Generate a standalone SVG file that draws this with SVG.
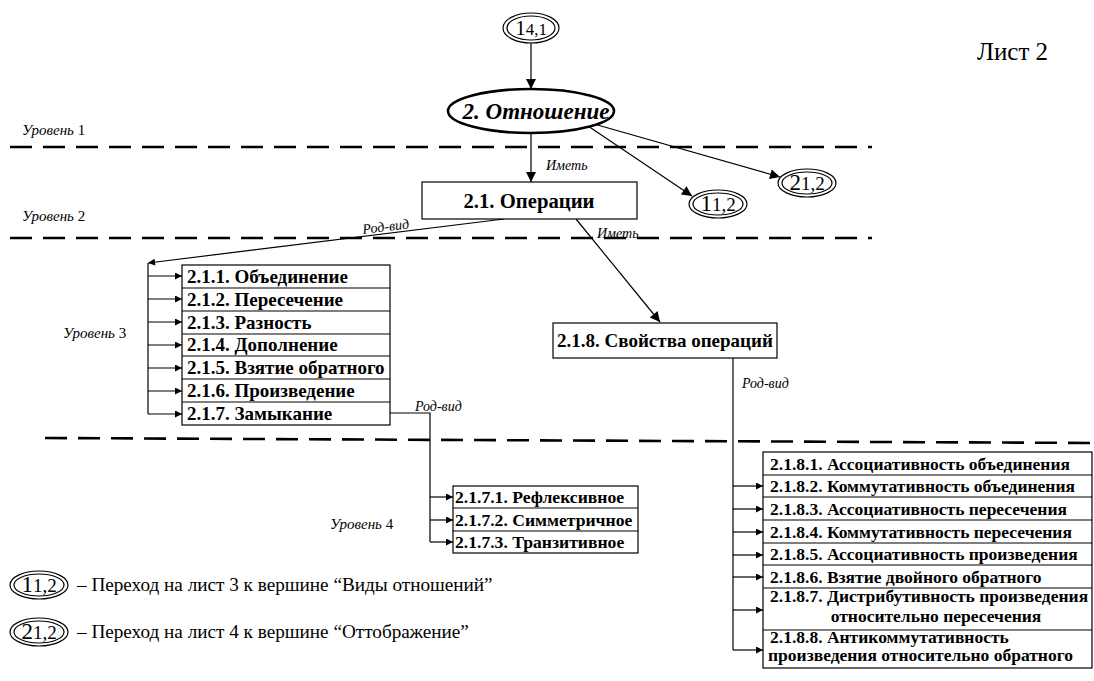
<svg xmlns="http://www.w3.org/2000/svg" width="1094" height="681" viewBox="0 0 1094 681">
<style>
text{font-family:"Liberation Serif","Times New Roman",serif;fill:#000}
.b{font-weight:bold}
.i{font-style:italic}
.lbl{font-size:14px;font-style:italic}
.lvl{font-size:15px}
.box{fill:#fff;stroke:#000;stroke-width:1.2}
.ln{fill:none;stroke:#000;stroke-width:1.2}
.dash{fill:none;stroke:#000;stroke-width:2.6;stroke-dasharray:22 11}
.rowL{font-size:19px;font-weight:bold}
.rowS{font-size:17.6px;font-weight:bold}
.rowR{font-size:17.5px;font-weight:bold}
.ell{fill:#fff;stroke:#000;stroke-width:1.2}
.leg{font-size:19.2px}
</style>
<defs>
<marker id="big" viewBox="0 0 10 10" refX="10" refY="5" markerWidth="14" markerHeight="10" markerUnits="userSpaceOnUse" orient="auto"><path d="M0,0 L10,5 L0,10 z" fill="#000"/></marker>
<marker id="sm" viewBox="0 0 10 10" refX="10" refY="5" markerWidth="9" markerHeight="7" markerUnits="userSpaceOnUse" orient="auto"><path d="M0,0 L10,5 L0,10 z" fill="#000"/></marker>
</defs>
<rect width="1094" height="681" fill="#fff"/>

<g id="levels">
<line class="dash" x1="10" y1="147" x2="872" y2="147"/>
<line class="dash" x1="10" y1="238" x2="872" y2="238"/>
<line class="dash" x1="45" y1="438" x2="1094" y2="443"/>
<text class="lvl" x="22" y="135"><tspan class="i">Уровень</tspan> 1</text>
<text class="lvl" x="22" y="221"><tspan class="i">Уровень</tspan> 2</text>
<text class="lvl" x="63" y="338"><tspan class="i">Уровень</tspan> 3</text>
<text class="lvl" x="330" y="529"><tspan class="i">Уровень</tspan> 4</text>
<text x="977" y="60" font-size="25">Лист 2</text>
</g>

<g id="connectors">
<line class="ln" x1="531" y1="43" x2="531" y2="89" marker-end="url(#big)"/>
<line class="ln" x1="531" y1="133" x2="531" y2="182" marker-end="url(#big)"/>
<text class="lbl" x="546" y="170">Иметь</text>
<line class="ln" x1="588" y1="126" x2="692" y2="196" marker-end="url(#big)"/>
<line class="ln" x1="594" y1="124" x2="780" y2="177" marker-end="url(#big)"/>
<line class="ln" x1="576" y1="219" x2="660" y2="322" marker-end="url(#big)"/>
<text class="lbl" x="597" y="238">Иметь</text>
<line class="ln" x1="504" y1="219" x2="148" y2="263" marker-end="url(#sm)"/>
<text class="lbl" x="363" y="234" transform="rotate(-7 363 234)">Род-вид</text>
<polyline class="ln" points="148,263 148,414"/>
<line class="ln" x1="148" y1="276" x2="182" y2="276" marker-end="url(#sm)"/>
<line class="ln" x1="148" y1="299" x2="182" y2="299" marker-end="url(#sm)"/>
<line class="ln" x1="148" y1="322" x2="182" y2="322" marker-end="url(#sm)"/>
<line class="ln" x1="148" y1="345" x2="182" y2="345" marker-end="url(#sm)"/>
<line class="ln" x1="148" y1="368" x2="182" y2="368" marker-end="url(#sm)"/>
<line class="ln" x1="148" y1="391" x2="182" y2="391" marker-end="url(#sm)"/>
<line class="ln" x1="148" y1="414" x2="182" y2="414" marker-end="url(#sm)"/>
<polyline class="ln" points="390,413 430,413 430,542"/>
<text class="lbl" x="415" y="411">Род-вид</text>
<line class="ln" x1="430" y1="497" x2="453" y2="497" marker-end="url(#sm)"/>
<line class="ln" x1="430" y1="520" x2="453" y2="520" marker-end="url(#sm)"/>
<line class="ln" x1="430" y1="542" x2="453" y2="542" marker-end="url(#sm)"/>
<polyline class="ln" points="733,358 733,650"/>
<text class="lbl" x="742" y="388">Род-вид</text>
<line class="ln" x1="733" y1="486" x2="763" y2="486" marker-end="url(#sm)"/>
<line class="ln" x1="733" y1="509" x2="763" y2="509" marker-end="url(#sm)"/>
<line class="ln" x1="733" y1="532" x2="763" y2="532" marker-end="url(#sm)"/>
<line class="ln" x1="733" y1="555" x2="763" y2="555" marker-end="url(#sm)"/>
<line class="ln" x1="733" y1="577" x2="763" y2="577" marker-end="url(#sm)"/>
<line class="ln" x1="733" y1="610" x2="763" y2="610" marker-end="url(#sm)"/>
<line class="ln" x1="733" y1="650" x2="763" y2="650" marker-end="url(#sm)"/>
</g>

<g id="n14">
<ellipse class="ell" cx="531" cy="28" rx="28" ry="15"/>
<ellipse class="ell" cx="531" cy="28" rx="24" ry="12"/>
<text x="531" y="35" text-anchor="middle" font-size="21">1<tspan font-size="17">4,1</tspan></text>
</g>
<g id="n2">
<ellipse cx="531" cy="111" rx="83" ry="22" fill="#fff" stroke="#000" stroke-width="2.6"/>
<text x="536" y="119" text-anchor="middle" font-size="23" class="b i">2. Отношение</text>
</g>
<g id="n12">
<ellipse class="ell" cx="718" cy="204" rx="29" ry="14"/>
<ellipse class="ell" cx="718" cy="204" rx="25" ry="11"/>
<text x="718" y="211" text-anchor="middle" font-size="23">1<tspan font-size="19">1,2</tspan></text>
</g>
<g id="n22">
<ellipse class="ell" cx="807" cy="183" rx="29" ry="14"/>
<ellipse class="ell" cx="807" cy="183" rx="25" ry="11"/>
<text x="807" y="190" text-anchor="middle" font-size="23">2<tspan font-size="19">1,2</tspan></text>
</g>
<g id="n21">
<rect class="box" x="422" y="182" width="215" height="37"/>
<text x="529" y="208" text-anchor="middle" font-size="20.7" class="b">2.1. Операции</text>
</g>
<g id="n211-217">
<rect class="box" x="182" y="265" width="208" height="160"/>
<line class="ln" x1="182" y1="288" x2="390" y2="288"/>
<line class="ln" x1="182" y1="311" x2="390" y2="311"/>
<line class="ln" x1="182" y1="334" x2="390" y2="334"/>
<line class="ln" x1="182" y1="356" x2="390" y2="356"/>
<line class="ln" x1="182" y1="379" x2="390" y2="379"/>
<line class="ln" x1="182" y1="402" x2="390" y2="402"/>
<text class="rowL" x="187" y="283">2.1.1. Объединение</text>
<text class="rowL" x="187" y="306">2.1.2. Пересечение</text>
<text class="rowL" x="187" y="329">2.1.3. Разность</text>
<text class="rowL" x="187" y="351">2.1.4. Дополнение</text>
<text class="rowL" x="187" y="374">2.1.5. Взятие обратного</text>
<text class="rowL" x="187" y="397">2.1.6. Произведение</text>
<text class="rowL" x="187" y="420">2.1.7. Замыкание</text>
</g>
<g id="n2171-2173">
<rect class="box" x="453" y="486" width="185" height="67"/>
<line class="ln" x1="453" y1="508" x2="638" y2="508"/>
<line class="ln" x1="453" y1="531" x2="638" y2="531"/>
<text class="rowS" x="455" y="503">2.1.7.1. Рефлексивное</text>
<text class="rowS" x="455" y="526">2.1.7.2. Симметричное</text>
<text class="rowS" x="455" y="548">2.1.7.3. Транзитивное</text>
</g>
<g id="n218">
<rect class="box" x="553" y="323" width="224" height="35"/>
<text x="665" y="347" text-anchor="middle" font-size="19" class="b">2.1.8. Свойства операций</text>
</g>
<g id="n2181-2188">
<rect class="box" x="763" y="452" width="329" height="216"/>
<line class="ln" x1="763" y1="475" x2="1092" y2="475"/>
<line class="ln" x1="763" y1="497" x2="1092" y2="497"/>
<line class="ln" x1="763" y1="520" x2="1092" y2="520"/>
<line class="ln" x1="763" y1="543" x2="1092" y2="543"/>
<line class="ln" x1="763" y1="565" x2="1092" y2="565"/>
<line class="ln" x1="763" y1="588" x2="1092" y2="588"/>
<line class="ln" x1="763" y1="630" x2="1092" y2="630"/>
<text class="rowR" x="770" y="469.5">2.1.8.1. Ассоциативность объединения</text>
<text class="rowR" x="770" y="492">2.1.8.2. Коммутативность объединения</text>
<text class="rowR" x="770" y="514.5">2.1.8.3. Ассоциативность пересечения</text>
<text class="rowR" x="770" y="537.5">2.1.8.4. Коммутативность пересечения</text>
<text class="rowR" x="770" y="560">2.1.8.5. Ассоциативность произведения</text>
<text class="rowR" x="770" y="582.5">2.1.8.6. Взятие двойного обратного</text>
<text class="rowR"><tspan x="770" y="602">2.1.8.7. Дистрибутивность произведения</tspan><tspan x="936" y="622" text-anchor="middle">относительно пересечения</tspan></text>
<text class="rowR"><tspan x="770" y="643">2.1.8.8. Антикоммутативность</tspan><tspan x="768" y="661">произведения относительно обратного</tspan></text>
</g>
<g id="legend">
<ellipse class="ell" cx="39" cy="585" rx="29" ry="14"/>
<ellipse class="ell" cx="39" cy="585" rx="25" ry="11"/>
<text x="39" y="592" text-anchor="middle" font-size="23">1<tspan font-size="19">1,2</tspan></text>
<text class="leg" x="77" y="591">– Переход на лист 3 к вершине “Виды отношений”</text>
<ellipse class="ell" cx="39" cy="632" rx="29" ry="14"/>
<ellipse class="ell" cx="39" cy="632" rx="25" ry="11"/>
<text x="39" y="639" text-anchor="middle" font-size="23">2<tspan font-size="19">1,2</tspan></text>
<text class="leg" x="77" y="638">– Переход на лист 4 к вершине “Оттображение”</text>
</g>
</svg>
